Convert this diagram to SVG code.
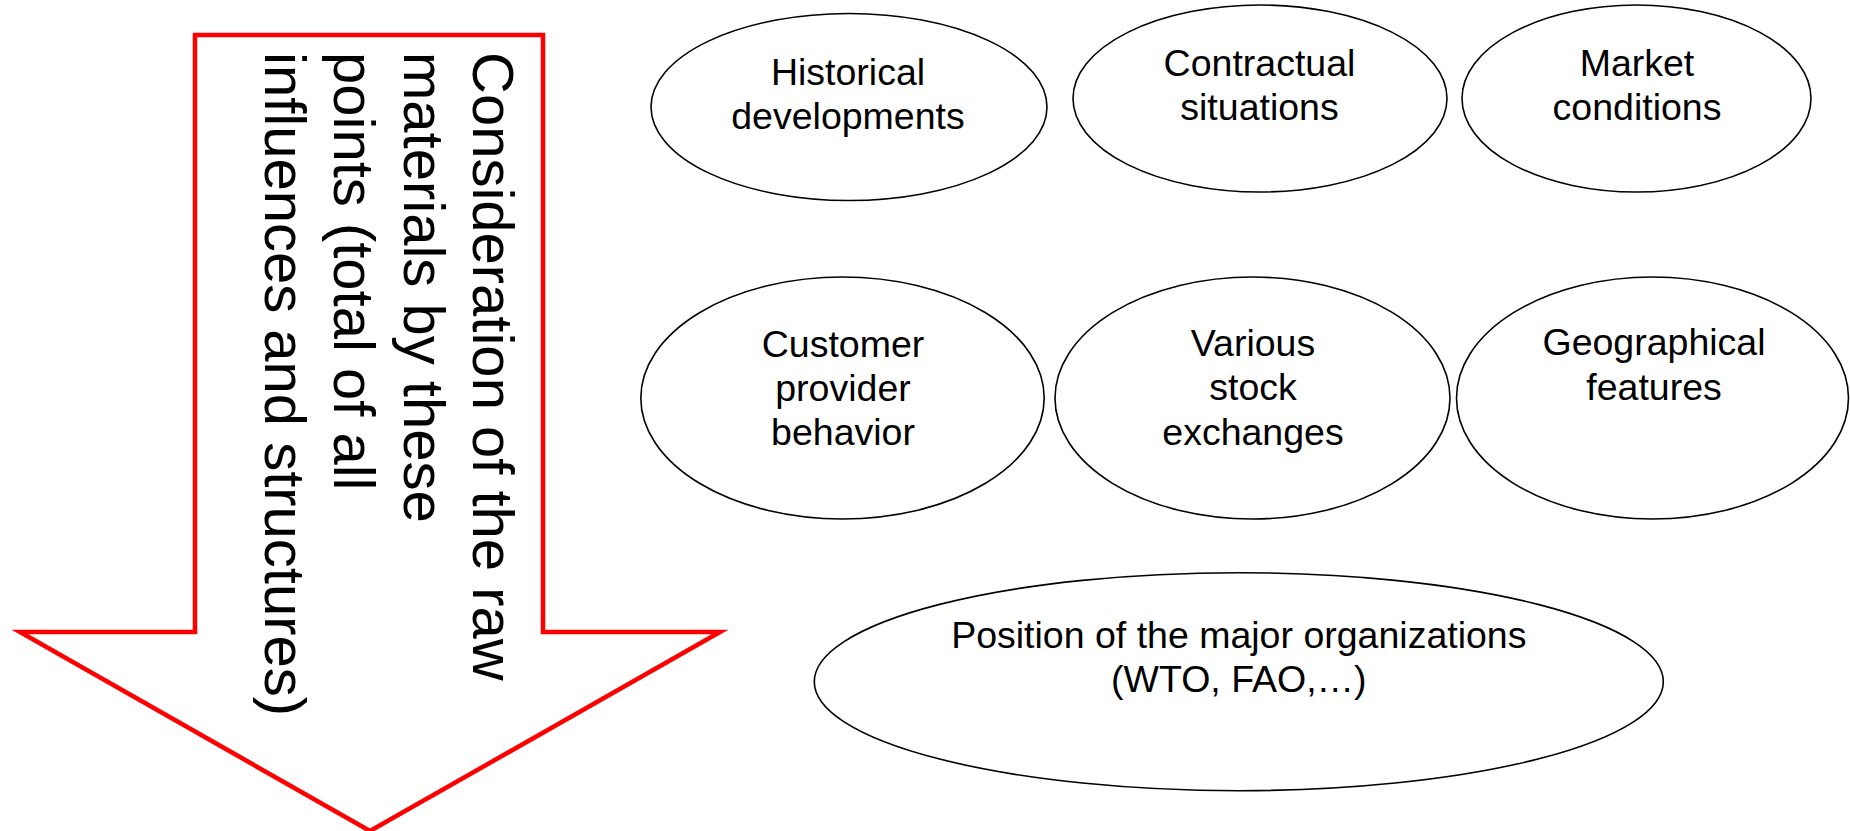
<svg xmlns="http://www.w3.org/2000/svg" width="1850" height="831" viewBox="0 0 1850 831">
<style>
.node ellipse{fill:#fff;stroke:#000;stroke-width:1.6}
.node text{font-family:"Liberation Sans",Arial,sans-serif;font-size:37.5px;fill:#000;text-anchor:middle}
.arrow{fill:#fff;stroke:#ff0000;stroke-width:4.5;stroke-linejoin:miter}
.atext{font-family:"Liberation Sans",Arial,sans-serif;font-size:58px;fill:#000}
</style>
<rect width="1850" height="831" fill="#fff"/>
<g id="arrow">
<polygon class="arrow" points="195,35 543,35 543,632 720,632 370,831 20,632 195,632"/>
<text class="atext" transform="translate(473,52) rotate(90)">
<tspan x="0" y="0">Consideration of the raw</tspan>
<tspan x="0" y="69.5">materials by these</tspan>
<tspan x="0" y="139">points (total of all</tspan>
<tspan x="0" y="208.5">influences and structures)</tspan>
</text>
</g>
<g id="connectors"></g>
<g id="n1" class="node">
<ellipse cx="849" cy="107" rx="198" ry="93.5"/>
<text x="848" y="85">Historical</text>
<text x="848" y="129.3">developments</text>
</g>
<g id="n2" class="node">
<ellipse cx="1260" cy="98.5" rx="187" ry="93.5"/>
<text x="1259.5" y="76">Contractual</text>
<text x="1259.5" y="120">situations</text>
</g>
<g id="n3" class="node">
<ellipse cx="1636.5" cy="98.5" rx="174.5" ry="93.5"/>
<text x="1637" y="76">Market</text>
<text x="1637" y="120">conditions</text>
</g>
<g id="n4" class="node">
<ellipse cx="842.5" cy="398" rx="201.7" ry="121"/>
<text x="843" y="356.5">Customer</text>
<text x="843" y="400.5">provider</text>
<text x="843" y="445">behavior</text>
</g>
<g id="n5" class="node">
<ellipse cx="1252.5" cy="398" rx="197.5" ry="121"/>
<text x="1253" y="356">Various</text>
<text x="1253" y="400">stock</text>
<text x="1253" y="445">exchanges</text>
</g>
<g id="n6" class="node">
<ellipse cx="1652.5" cy="398" rx="196" ry="121"/>
<text x="1654" y="355">Geographical</text>
<text x="1654" y="400">features</text>
</g>
<g id="n7" class="node">
<ellipse cx="1238.8" cy="681.7" rx="424.5" ry="109"/>
<text x="1238.8" y="647.5">Position of the major organizations</text>
<text x="1238.8" y="691.5">(WTO, FAO,…)</text>
</g>
</svg>
